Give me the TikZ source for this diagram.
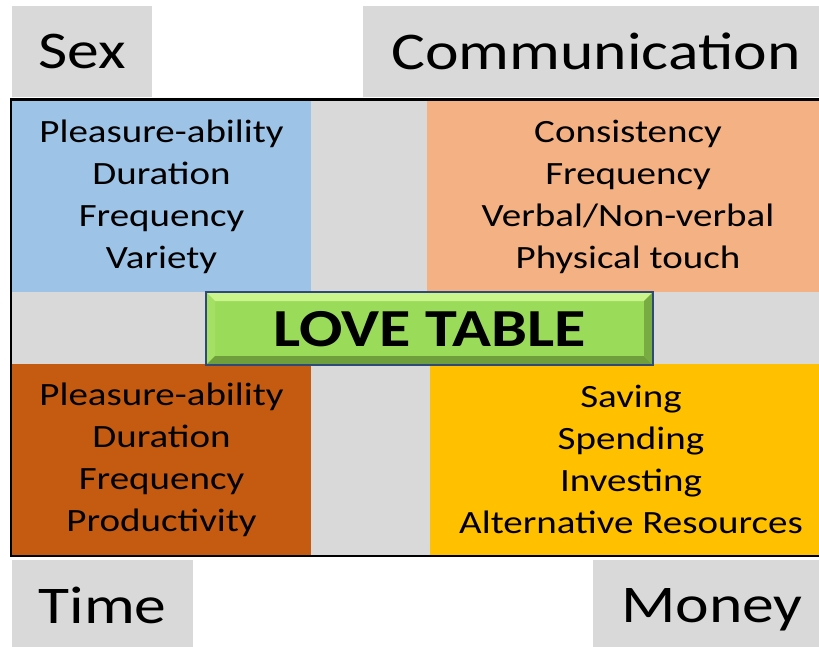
\documentclass[tikz,border=0pt]{standalone}
\usepackage{fontspec}
\setmainfont{Carlito}[FakeStretch=1.2]
\usetikzlibrary{calc, positioning}
\definecolor{tagGray}{HTML}{D9D9D9}
\definecolor{sexBlue}{HTML}{9DC3E6}
\definecolor{talkOrange}{HTML}{F4B183}
\definecolor{timeBrown}{HTML}{C55A11}
\definecolor{moneyGold}{HTML}{FFC000}
\definecolor{loveGreen}{HTML}{9BDB5A}
\definecolor{loveLight}{HTML}{C9F58C}
\definecolor{loveDark}{HTML}{6F9F3C}
\definecolor{loveEdge}{HTML}{2F4A78}

\begin{document}
\begin{tikzpicture}[x=1pt, y=-1pt,
  cell/.style={anchor=north west, inner sep=0pt, outer sep=0pt, align=center, font=\fontsize{32.5}{42}\selectfont},
  tag/.style={cell, fill=tagGray, text depth=0pt, font=\fontsize{53}{60}\selectfont},
  love/.style={fill=loveGreen, inner sep=0pt, outer sep=0pt, minimum width=447pt, minimum height=73pt, text depth=0pt, font=\bfseries\fontsize{53.5}{60}\selectfont}]
\useasboundingbox (0,0) rectangle (819,646);
\clip (0,0) rectangle (819,646);
% headers
\node[tag, minimum width=140pt, minimum height=91pt] (sex) at (12,6) {Sex};
\node[tag, minimum width=466pt, minimum height=91pt] (comm) at (363,6) {Communication};
\node[tag, minimum width=181pt, minimum height=90pt] (time) at (12,560) {Time};
\node[tag, minimum width=238pt, minimum height=90pt] (money) at (593,560) {Money};
% table frame
\node[draw, line width=2.5pt, fill=tagGray, anchor=north west, inner sep=0pt, outer sep=0pt, minimum width=830pt, minimum height=456.5pt] (table) at (11,99.5) {};
% quadrants
\node[cell, fill=sexBlue, minimum width=299pt, minimum height=191pt] (sexlist) at (12,101) {Pleasure-ability\\Duration\\Frequency\\Variety};
\node[cell, fill=talkOrange, minimum width=402pt, minimum height=191pt] (commlist) at (427,101) {Consistency\\Frequency\\Verbal/Non-verbal\\Physical touch};
\node[cell, fill=timeBrown, minimum width=299pt, minimum height=191pt] (timelist) at (12,364) {Pleasure-ability\\Duration\\Frequency\\Productivity};
\node[cell, fill=moneyGold, minimum width=402pt, minimum height=191pt] (moneylist) at (430,364) {Saving\\Spending\\Investing\\Alternative Resources};
% centre button
\node[love] (lovetable) at (429.5,328.5) {LOVE TABLE};
\fill[loveLight] (lovetable.north west) -- (lovetable.north east) -- ($(lovetable.north east)+(-9,9)$) -- ($(lovetable.north west)+(9,9)$) -- cycle;
\fill[loveGreen!80!loveLight] (lovetable.north west) -- ($(lovetable.north west)+(9,9)$) -- ($(lovetable.south west)+(9,-9)$) -- (lovetable.south west) -- cycle;
\fill[loveDark] (lovetable.south west) -- ($(lovetable.south west)+(9,-9)$) -- ($(lovetable.south east)+(-9,-9)$) -- (lovetable.south east) -- cycle;
\fill[loveDark!80!loveGreen] (lovetable.north east) -- ($(lovetable.north east)+(-9,9)$) -- ($(lovetable.south east)+(-9,-9)$) -- (lovetable.south east) -- cycle;
\draw[loveEdge, line width=1.8pt] (lovetable.north west) rectangle (lovetable.south east);
\end{tikzpicture}
\end{document}
